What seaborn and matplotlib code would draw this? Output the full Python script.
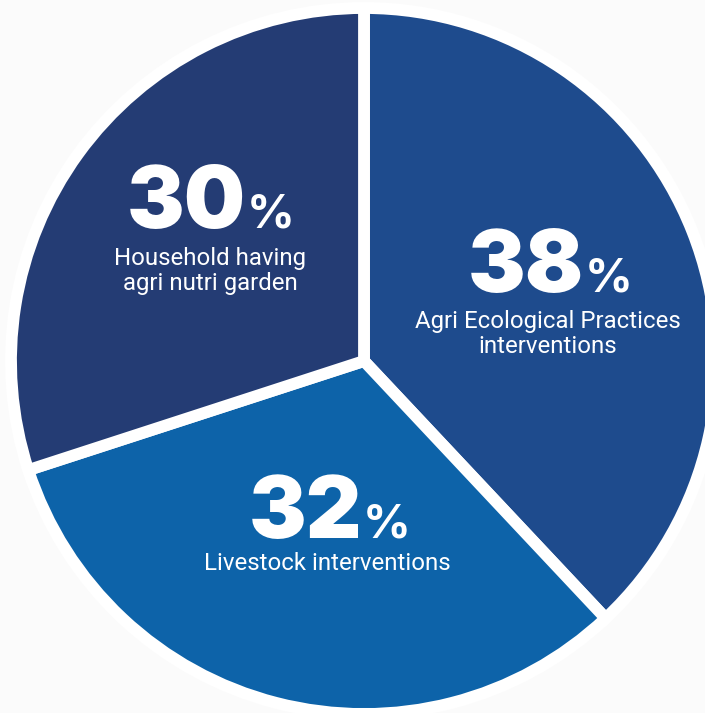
import matplotlib
matplotlib.use('Agg')
import matplotlib.pyplot as plt
import seaborn as sns

# Dados do gráfico
categorias = ['Agri Ecological Practices\ninterventions', 'Livestock interventions',
              'Household having\nagri nutri garden']
valores = [38, 32, 30]
cores = ['#1e4b8d', '#0d63a9', '#243c74']

sns.set_theme(style='white')
plt.rcParams['font.family'] = ['Roboto', 'DejaVu Sans']

W, H = 705, 713
fundo = '#fbfbfb'
fig = plt.figure(figsize=(W / 100, H / 100), dpi=100)
fig.patch.set_facecolor(fundo)
ax = fig.add_axes([0, 0, 1, 1])
ax.set_facecolor(fundo)

# Pie em coordenadas de pixel (y invertido manualmente)
cx, cy, raio = 364, H - 361, 353
ax.pie(valores, colors=cores, startangle=90, counterclock=False,
       center=(cx, cy), radius=raio, frame=True,
       wedgeprops=dict(edgecolor='white', linewidth=8.5, joinstyle='miter'))

ax.set_xlim(0, W)
ax.set_ylim(0, H)
ax.set_aspect('equal')
ax.axis('off')

# Rótulos: (x do fim do número, baseline do número, x centro do texto, baseline da última linha)
posicoes = [(584, 292, 548, 353), (362, 538, 327, 570), (246, 228, 210, 290)]
for valor, nome, (xn, yn, xt, yt) in zip(valores, categorias, posicoes):
    ax.text(xn, H - yn, str(valor), color='white', fontsize=62, fontweight='black',
            family=['Inter', 'Roboto'], ha='right', va='baseline')
    ax.text(xn + 1, H - yn, '%', color='white', fontsize=34, fontweight='bold',
            family=['Inter', 'Roboto'], ha='left', va='baseline')
    ax.text(xt, H - yt, nome, color='white', fontsize=17.3, ha='center',
            va='baseline', linespacing=1.12)

fig.savefig('out.png', dpi=100, facecolor=fig.get_facecolor())
